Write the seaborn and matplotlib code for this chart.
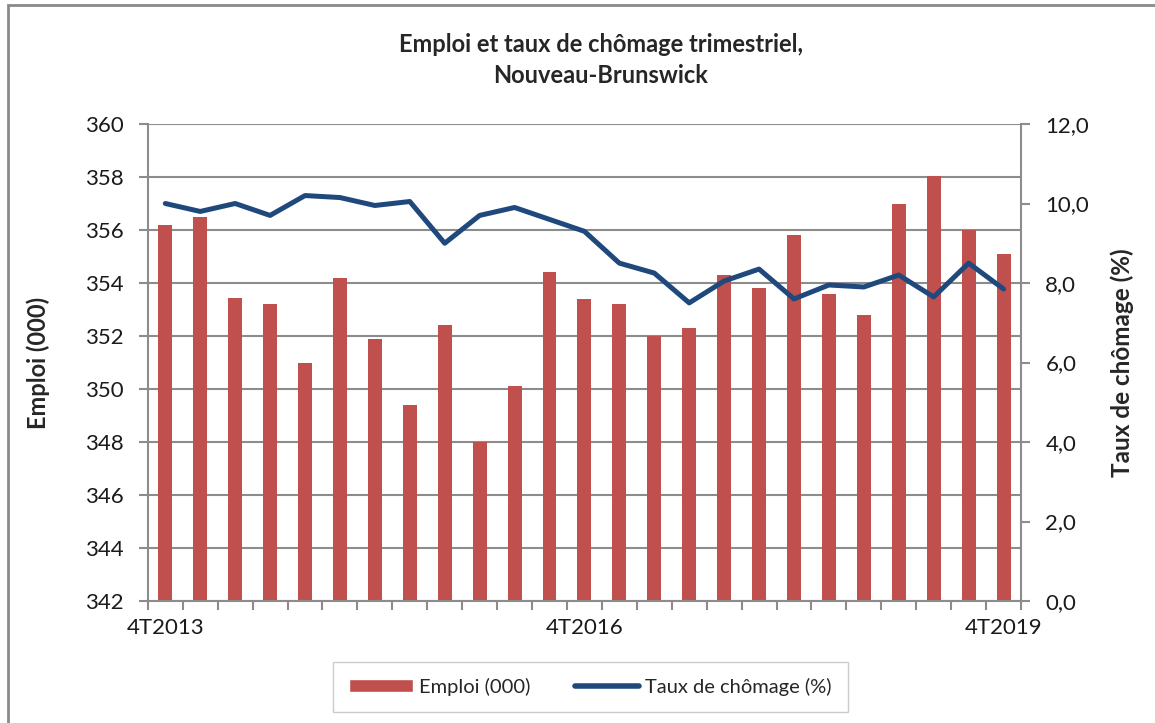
import numpy as np
import pandas as pd
import seaborn as sns
import matplotlib.pyplot as plt
from matplotlib.ticker import FuncFormatter
from matplotlib.patches import Rectangle, Patch
from matplotlib.lines import Line2D

# Données trimestrielles, 4T2013 à 4T2019
trimestres = [f"{q}T{a}" for a in range(2013, 2020) for q in range(1, 5)][3:]
emploi = [356.2, 356.5, 353.45, 353.2, 351.0, 354.2, 351.9, 349.4, 352.4, 348.0,
          350.1, 354.4, 353.4, 353.2, 352.0, 352.3, 354.3, 353.8, 355.8, 353.6,
          352.8, 357.0, 358.05, 356.0, 355.1]
chomage = [10.0, 9.8, 10.0, 9.7, 10.2, 10.15, 9.95, 10.05, 9.0, 9.7,
           9.9, 9.6, 9.3, 8.5, 8.25, 7.5, 8.05, 8.35, 7.6, 7.95,
           7.9, 8.2, 7.65, 8.5, 7.85]
etiquettes = ["4T2013", "4T2016", "4T2019"]

df = pd.DataFrame({"trimestre": trimestres, "emploi": emploi, "chomage": chomage})
df["pos"] = range(len(df))

rouge = "#C0504D"
bleu = "#1F497D"
gris = "#8c8c8c"

sns.set_theme(style="white")
plt.rcParams["font.family"] = ["Lato", "DejaVu Sans"]

fig, ax = plt.subplots(figsize=(11.55, 7.23), dpi=100)
fig.subplots_adjust(left=0.128, right=0.884, top=0.8285, bottom=0.1687)

# barres : emploi
sns.barplot(data=df, x="trimestre", y="emploi", color=rouge, saturation=1,
            width=0.4, linewidth=0, ax=ax)
ax.set_ylim(342, 360)
ax.set_yticks(range(342, 361, 2))
ax.set_axisbelow(True)
ax.yaxis.grid(True, color=gris, lw=1.5)
ax.xaxis.grid(False)

# ligne : taux de chômage (axe de droite)
ax2 = ax.twinx()
sns.lineplot(data=df, x="pos", y="chomage", color=bleu, lw=3.6, ax=ax2)
ax2.set_ylim(0, 12)
ax2.set_yticks(range(0, 13, 2))
ax2.yaxis.set_major_formatter(FuncFormatter(lambda v, p: f"{v:.1f}".replace(".", ",")))
ax2.grid(False)

ax.set_xlim(-0.5, len(df) - 0.5)
ax.set_xticks([trimestres.index(e) for e in etiquettes])
ax.set_xticklabels(etiquettes)
ax.set_xticks(np.arange(-0.5, len(df), 1), minor=True)

ax.tick_params(axis="x", which="major", length=0, pad=12, labelsize=16, colors="#1a1a1a")
ax.tick_params(axis="x", which="minor", bottom=True, length=6.5, width=1.5, color=gris)
ax.tick_params(axis="y", left=True, length=6.5, width=1.5, color=gris, pad=11, labelsize=16,
               labelcolor="#1a1a1a")
ax2.tick_params(axis="y", right=True, length=6.5, width=1.5, color=gris, pad=11, labelsize=16,
                labelcolor="#1a1a1a")

for s in ["top", "right"]:
    ax.spines[s].set_visible(False)
for s in ["left", "bottom"]:
    ax.spines[s].set_color(gris)
    ax.spines[s].set_linewidth(1.5)
for s in ["top", "left", "bottom"]:
    ax2.spines[s].set_visible(False)
ax2.spines["right"].set_color(gris)
ax2.spines["right"].set_linewidth(1.5)

ax.set_xlabel("")
ax2.set_xlabel("")
ax.set_ylabel("Emploi (000)", fontsize=17, fontweight="bold")
ax.yaxis.set_label_coords(-0.112, 0.5)
ax2.set_ylabel("Taux de chômage (%)", fontsize=17.5, fontweight="bold")
ax2.yaxis.set_label_coords(1.102, 0.5)

fig.text(0.52, 0.917, "Emploi et taux de chômage trimestriel,\nNouveau-Brunswick",
         ha="center", va="center", fontsize=17, fontweight="bold", linespacing=1.45)

handles = [Patch(facecolor=rouge, label="Emploi (000)"),
           Line2D([], [], color=bleu, lw=4, label="Taux de chômage (%)")]
fig.legend(handles=handles, loc="center", bbox_to_anchor=(0.511, 0.05), ncol=2,
           frameon=True, fancybox=False, edgecolor="#bfbfbf", fontsize=14.5,
           handlelength=3.2, handleheight=0.6, handletextpad=0.3, columnspacing=2.2,
           borderpad=0.8)

# cadre du graphique
fig.add_artist(Rectangle((8 / 1155, -0.5), 2, 0.5 + 1 - 5 / 723, transform=fig.transFigure,
                         fill=False, edgecolor="#8a8a8a", lw=2))

plt.savefig("out.png", dpi=100)
